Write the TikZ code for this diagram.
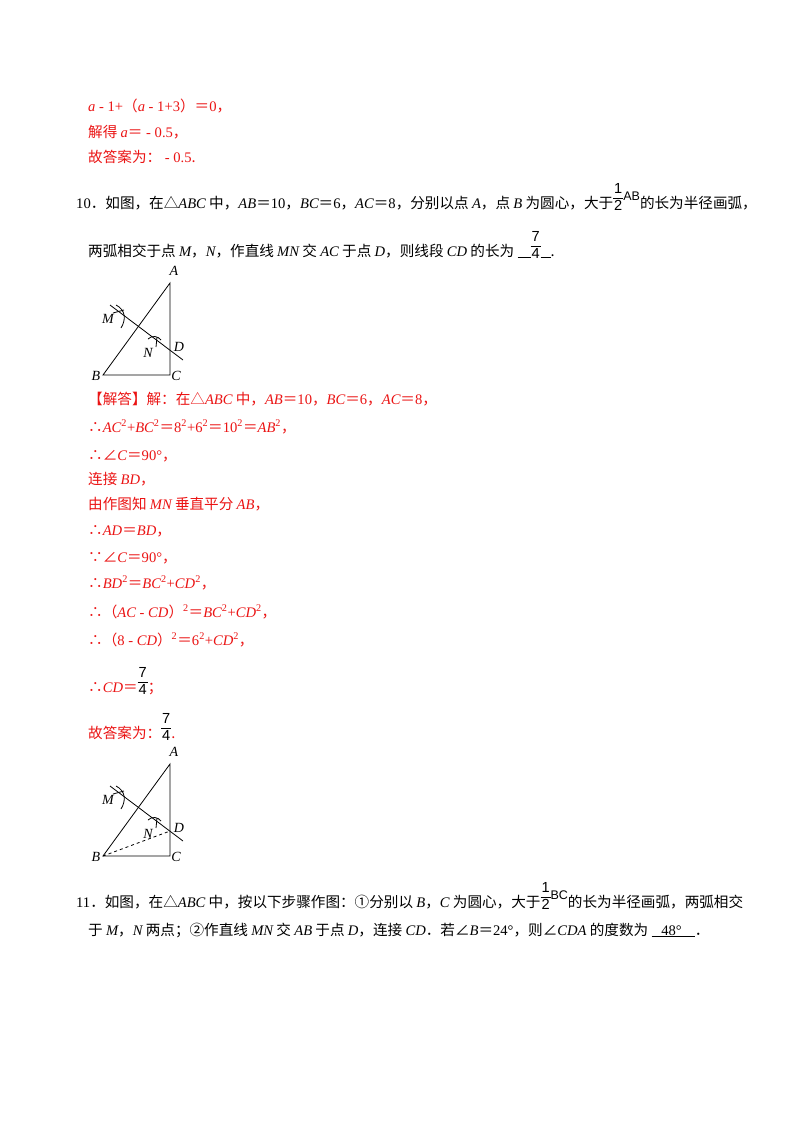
\documentclass[tikz,border=0pt]{standalone}
\usepackage{fontspec}
\setmainfont{Noto Sans CJK SC}
\newfontfamily\lt{Liberation Serif}
\newfontfamily\ls{Liberation Sans}
\newcommand{\vi}[1]{{\lt\itshape #1}}
\newcommand{\nm}[1]{{\lt #1}}
\newcommand{\sq}{\textsuperscript{\lt 2}}
\newcommand{\fr}[2]{\raisebox{0.4em}{\ls\setlength{\tabcolsep}{1pt}\renewcommand{\arraystretch}{0.95}\begin{tabular}{c}#1\\\hline #2\end{tabular}}}
\newcommand{\sm}[1]{\raisebox{0.5em}{\ls\fontsize{12.5}{14}\selectfont #1}}
\definecolor{ans}{RGB}{235,20,20}
\begin{document}
\begin{tikzpicture}[x=1pt,y=-1pt,
  t/.style={anchor=base west,inner sep=0pt,font=\fontsize{14.6}{17}\selectfont},
  r/.style={t,text=ans},
  lb/.style={inner sep=0pt,font=\lt\itshape\fontsize{14}{16}\selectfont},
  ln/.style={line width=0.8pt}]
\useasboundingbox (0,0) rectangle (800,1132);
\fill[white] (0,0) rectangle (800,1132);
% red lines top
\node[r] (l1) at (88,111) {\vi{a}\nm{ - 1+}（\vi{a}\nm{ - 1+3}）＝\nm{0}，};
\node[r] (l2) at (88,137) {解得 \vi{a}＝\nm{ - 0.5}，};
\node[r] (l3) at (88,162) {故答案为：\nm{ - 0.5}.};
% problem 10
\node[t] (p10a) at (76,208) {\nm{10}．如图，在△\vi{ABC} 中，\vi{AB}＝\nm{10}，\vi{BC}＝\nm{6}，\vi{AC}＝\nm{8}，分别以点 \vi{A}，点 \vi{B} 为圆心，大于\fr{1}{2}\sm{AB}的长为半径画弧，};
\node[t] (p10b) at (88,256) {两弧相交于点 \vi{M}，\vi{N}，作直线 \vi{MN} 交 \vi{AC} 于点 \vi{D}，则线段 \vi{CD} 的长为 \underline{\ \ \ \ }\fr{7}{4}\underline{\ \ \ }.};
% figure 1
\coordinate (B1) at (103,375); \coordinate (C1) at (170,375); \coordinate (A1) at (170,283);
\coordinate (P1) at (110,305); \coordinate (Q1) at (183,360);
\draw[ln] (B1) -- (A1) -- (C1) -- cycle;
\draw[ln] (P1) -- (Q1);
\draw[ln] (116,305) .. controls (126,310) and (126,320) .. (121,328);
\draw[ln] (113,313) -- (124,310);
\draw[ln] (148,339) .. controls (152,335) and (158,336) .. (161,340);
\draw[ln] (157,337) -- (156,347);
\node[lb] (A1l) at (174,271) {A};
\node[lb] (M1l) at (108,319) {M};
\node[lb] (N1l) at (148,353) {N};
\node[lb] (D1l) at (179,347) {D};
\node[lb] (B1l) at (96,376) {B};
\node[lb] (C1l) at (176,376) {C};
% solution
\node[r] (s1) at (88,404) {【解答】解：在△\vi{ABC} 中，\vi{AB}＝\nm{10}，\vi{BC}＝\nm{6}，\vi{AC}＝\nm{8}，};
\node[r] (s2) at (88,432) {∴\vi{AC}\sq\nm{+}\vi{BC}\sq＝\nm{8}\sq\nm{+6}\sq＝\nm{10}\sq＝\vi{AB}\sq，};
\node[r] (s3) at (88,460) {∴∠\vi{C}＝\nm{90°}，};
\node[r] (s4) at (88,484) {连接 \vi{BD}，};
\node[r] (s5) at (88,509) {由作图知 \vi{MN} 垂直平分 \vi{AB}，};
\node[r] (s6) at (88,535) {∴\vi{AD}＝\vi{BD}，};
\node[r] (s7) at (88,562) {∵∠\vi{C}＝\nm{90°}，};
\node[r] (s8) at (88,588) {∴\vi{BD}\sq＝\vi{BC}\sq\nm{+}\vi{CD}\sq，};
\node[r] (s9) at (88,617) {∴（\vi{AC}\nm{ - }\vi{CD}）\sq＝\vi{BC}\sq\nm{+}\vi{CD}\sq，};
\node[r] (s10) at (88,645) {∴（\nm{8 - }\vi{CD}）\sq＝\nm{6}\sq\nm{+}\vi{CD}\sq，};
\node[r] (s11) at (88,692) {∴\vi{CD}＝{\color{black}\fr{7}{4}}；};
\node[r] (s12) at (88,738) {故答案为：{\color{black}\fr{7}{4}}.};
% figure 2
\coordinate (B2) at (103,856); \coordinate (C2) at (170,856); \coordinate (A2) at (170,764);
\coordinate (D2) at (170,831);
\coordinate (P2) at (110,786); \coordinate (Q2) at (183,841);
\draw[ln] (B2) -- (A2) -- (C2) -- cycle;
\draw[ln] (P2) -- (Q2);
\draw[ln,dashed] (B2) -- (D2);
\draw[ln] (116,786) .. controls (126,791) and (126,801) .. (121,809);
\draw[ln] (113,794) -- (124,791);
\draw[ln] (148,820) .. controls (152,816) and (158,817) .. (161,821);
\draw[ln] (157,818) -- (156,828);
\node[lb] (A2l) at (174,752) {A};
\node[lb] (M2l) at (108,800) {M};
\node[lb] (N2l) at (148,834) {N};
\node[lb] (D2l) at (179,828) {D};
\node[lb] (B2l) at (96,857) {B};
\node[lb] (C2l) at (176,857) {C};
% problem 11
\node[t] (p11a) at (76,907) {\nm{11}．如图，在△\vi{ABC} 中，按以下步骤作图：①分别以 \vi{B}，\vi{C} 为圆心，大于\fr{1}{2}\sm{BC}的长为半径画弧，两弧相交};
\node[t] (p11b) at (88,935) {于 \vi{M}，\vi{N} 两点；②作直线 \vi{MN} 交 \vi{AB} 于点 \vi{D}，连接 \vi{CD}．若∠\vi{B}＝\nm{24°}，则∠\vi{CDA} 的度数为 \underline{\ \ \ \nm{48°}\ \ \ \ }．};
\end{tikzpicture}
\end{document}
